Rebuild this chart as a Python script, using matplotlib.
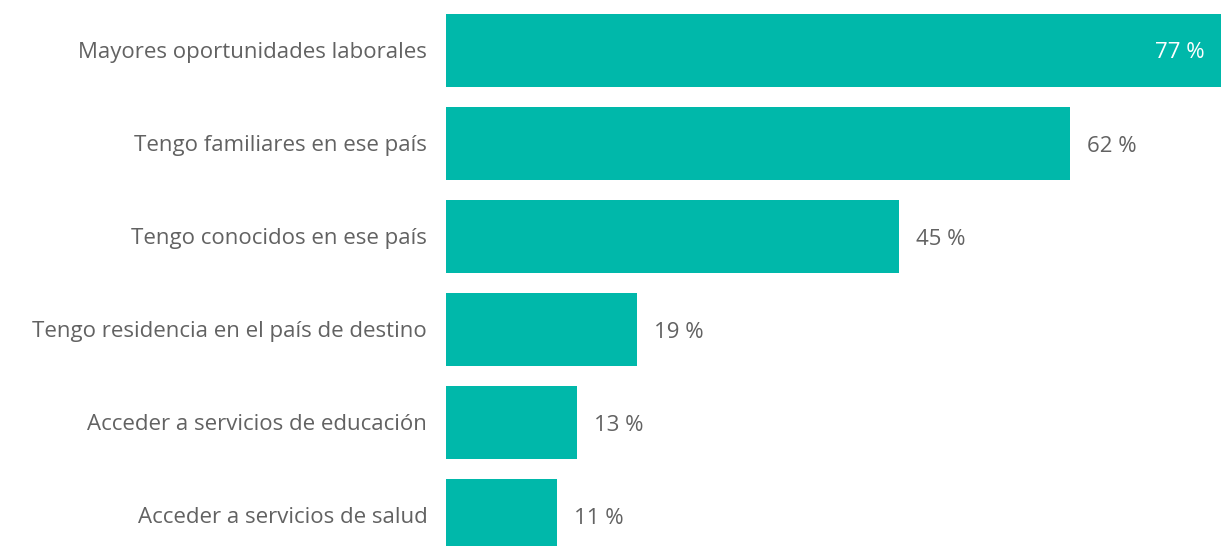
import matplotlib.pyplot as plt

categorias = [
    "Mayores oportunidades laborales",
    "Tengo familiares en ese país",
    "Tengo conocidos en ese país",
    "Tengo residencia en el país de destino",
    "Acceder a servicios de educación",
    "Acceder a servicios de salud",
]
valores = [77, 62, 45, 19, 13, 11]

plt.rcParams['font.family'] = ['Open Sans', 'DejaVu Sans']

fig = plt.figure(figsize=(12.32, 5.46), dpi=100)
ax = fig.add_axes([446 / 1232, 0, (1221 - 446) / 1232, 1])

y = list(range(len(categorias)))
ax.barh(y, valores, height=0.785, color="#00B8AA")
ax.set_xlim(0, 77)
ax.set_ylim(5.328, -0.543)

ax.set_yticks(y)
ax.set_yticklabels(categorias, fontsize=16, color="#626262")
ax.tick_params(axis='y', length=0, pad=13.5)
ax.set_xticks([])
for s in ax.spines.values():
    s.set_visible(False)

# etiquetas de valor
for yi, v in zip(y, valores):
    if v == max(valores):
        ax.annotate(f"{v} %", (v, yi), xytext=(-16, -2), textcoords="offset pixels",
                    ha="right", va="center", fontsize=16, color="white")
    else:
        ax.annotate(f"{v} %", (v, yi), xytext=(17, -3), textcoords="offset pixels",
                    ha="left", va="center", fontsize=16, color="#626262")

fig.savefig("out.png", dpi=100)
